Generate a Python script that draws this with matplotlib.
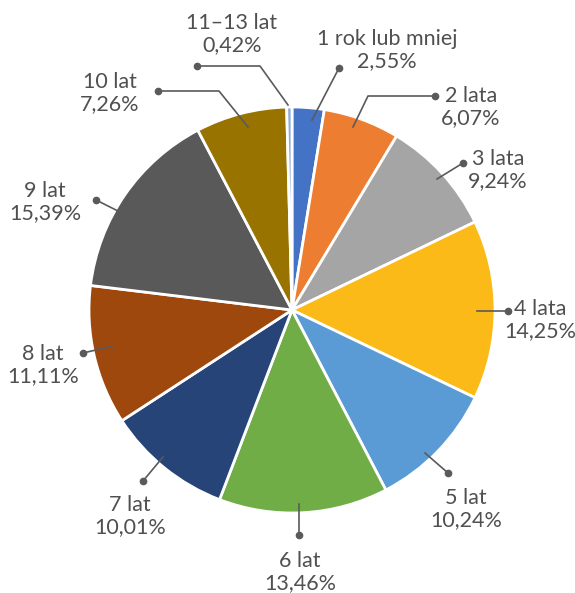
import numpy as np
import matplotlib.pyplot as plt

labels = ['1 rok lub mniej', '2 lata', '3 lata', '4 lata', '5 lat', '6 lat',
          '7 lat', '8 lat', '9 lat', '10 lat', '11–13 lat']
values = [2.55, 6.07, 9.24, 14.25, 10.24, 13.46, 10.01, 11.11, 15.39, 7.26, 0.42]
colors = ['#4472C4', '#ED7D31', '#A5A5A5', '#FBBA18', '#5B9BD5', '#70AD47',
          '#264478', '#9E480E', '#595959', '#997300', '#8FAADC']

W, H = 575, 593
cx, cy, R = 292, 310, 203  # image pixels, y down

# label layout (image pixels): text centre, dot, optional elbow, inner end
text_pos = [(387, 50), (471, 107), (498, 170), (540, 320), (466, 509), (300, 572),
            (130, 516), (43, 365), (45, 202), (110, 93), (232, 34)]
dots = [(339, 68), (435, 96), (463, 163), (508, 311), (448, 473), (299, 535),
        (143, 481), (83, 353), (96, 200), (158, 91), (197, 66)]
elbows = [None, (368, 96), None, None, None, None,
          None, None, None, (219, 91), (260, 66)]
inners = [(312, 120), (353, 127), (437, 179), (477, 311), (425, 453), (299, 504),
          (163, 457), (113, 346), (122, 213), (248, 127), (288, 105)]

fig = plt.figure(figsize=(W / 100, H / 100), dpi=100)
ax = fig.add_axes([0, 0, 1, 1])
ax.pie(values, colors=colors, startangle=90, counterclock=False,
       center=(cx, H - cy), radius=R,
       wedgeprops=dict(edgecolor='white', linewidth=2))
ax.set_xlim(0, W)
ax.set_ylim(0, H)
ax.set_aspect('equal')
ax.axis('off')

tc = '#505050'
lc = '#5a5a5a'
for i, lab in enumerate(labels):
    pts = [inners[i]]
    if elbows[i] is not None:
        pts.append(elbows[i])
    pts.append(dots[i])
    ax.plot([p[0] for p in pts], [H - p[1] for p in pts], color=lc, lw=1.2)
    ax.plot(dots[i][0], H - dots[i][1], 'o', color=lc, ms=4.5)
    pct = f'{values[i]:.2f}%'.replace('.', ',')
    tx, ty = text_pos[i]
    ax.text(tx, H - ty, f'{lab}\n{pct}', ha='center', va='center',
            fontsize=15.5, color=tc, linespacing=1.12, family='Lato')

fig.savefig('out.png', dpi=100)
